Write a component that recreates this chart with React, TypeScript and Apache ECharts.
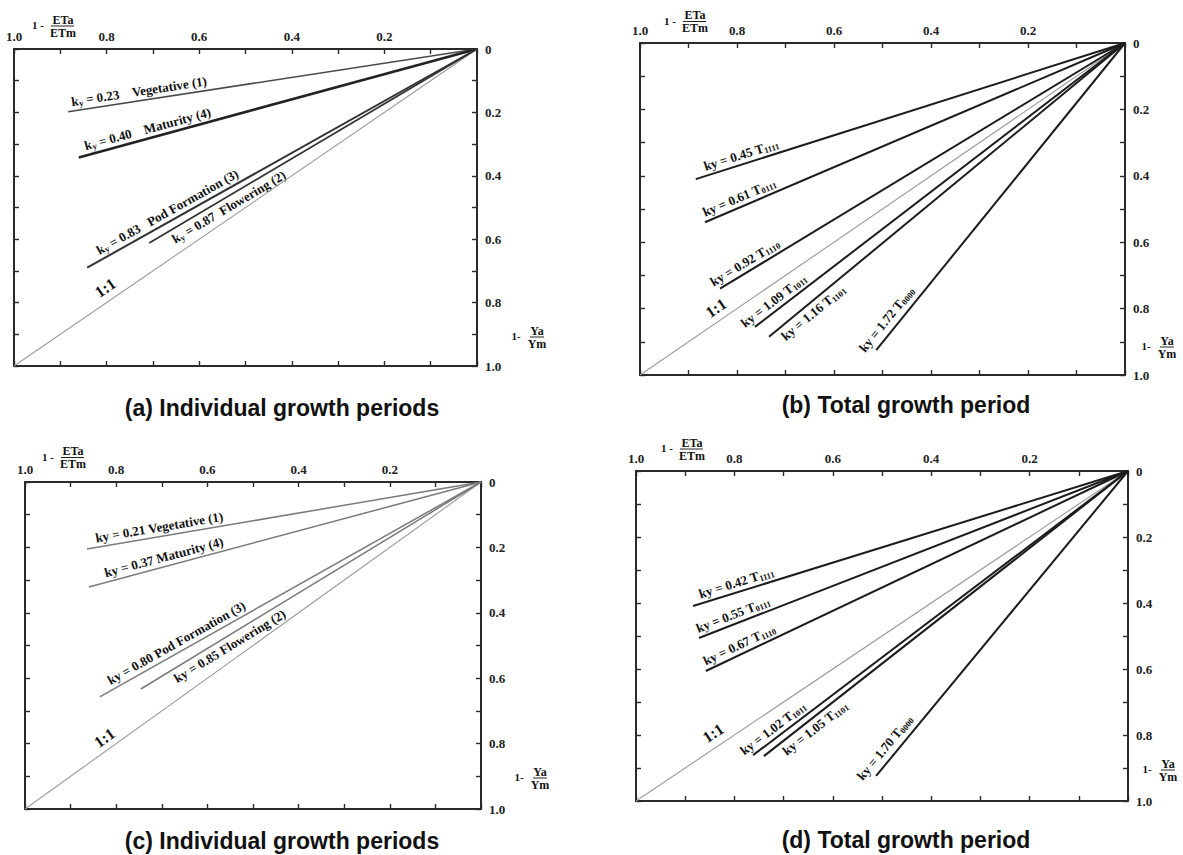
import React, { useEffect, useRef } from 'react';
import * as echarts from 'echarts';

// ---------------- data ----------------
const xTickLabels = ['1.0', '0.8', '0.6', '0.4', '0.2']; // at 1.0, 0.8 ... 0.2
const yTickLabels = ['0', '0.2', '0.4', '0.6', '0.8', '1.0']; // at 0, 0.2 ... 1.0

const stageNames = ['Vegetative (1)', 'Maturity (4)', 'Pod Formation (3)', 'Flowering (2)'];
const treatCodes = ['1111', '0111', '1110', '1011', '1101', '0000'];

// (a) individual growth periods
const aKy = ['0.23', '0.40', '0.83', '0.87'];
const aXEnd = [0.883, 0.86, 0.842, 0.708];
const aYEnd = [0.198, 0.342, 0.69, 0.612];

// (b) total growth period
const bKy = ['0.45', '0.61', '0.92', '1.09', '1.16', '1.72'];
const bXEnd = [0.885, 0.866, 0.835, 0.763, 0.734, 0.513];
const bYEnd = [0.41, 0.54, 0.74, 0.855, 0.885, 0.925];

// (c) individual growth periods
const cKy = ['0.21', '0.37', '0.80', '0.85'];
const cXEnd = [0.864, 0.86, 0.836, 0.746];
const cYEnd = [0.205, 0.321, 0.657, 0.633];

// (d) total growth period
const dKy = ['0.42', '0.55', '0.67', '1.02', '1.05', '1.70'];
const dXEnd = [0.884, 0.872, 0.858, 0.762, 0.74, 0.512];
const dYEnd = [0.409, 0.506, 0.606, 0.861, 0.864, 0.924];

const unityLine = [[0, 0], [1, 1]];
const unityLabel = '1:1';

const titles = [
  '(a) Individual growth periods',
  '(b) Total growth period',
  '(c) Individual growth periods',
  '(d) Total growth period',
];
const xNameParts = ['1 -', 'ETa', 'ETm'];
const yNameParts = ['1-', 'Ya', 'Ym'];

// ---------------- layout & style ----------------
const SERIF = '"Liberation Serif", "Times New Roman", serif';
const SANS = '"Liberation Sans", Arial, sans-serif';
const NB = '\u00a0';

const GRIDS = [
  { left: 14, top: 49, width: 463, height: 317 },
  { left: 640, top: 43, width: 485, height: 332 },
  { left: 25, top: 482, width: 456, height: 327 },
  { left: 636, top: 471, width: 492, height: 330 },
];

// label anchor (x value where text starts) and side of the line
const LABEL_X = [
  [0.873, 0.842, 0.81, 0.667],
  [0.862, 0.862, 0.843, 0.777, 0.718, 0.525],
  [0.842, 0.82, 0.807, 0.682],
  [0.866, 0.87, 0.854, 0.774, 0.711, 0.528],
];
const LABEL_BELOW = [
  [false, false, false, true],
  [false, false, false, false, true, false],
  [false, false, false, true],
  [false, false, false, false, true, false],
];
const LABEL_GAP = [
  [2, 2, 2, 2],
  [2, 2, 2, 2, 2, 4],
  [2, 2, 2, 2],
  [2, 2, 2, 2, 2, 4],
];
const UNITY_LABEL_X = [0.806, 0.847, 0.83, 0.846];
const UNITY_GAP = [4, 3.5, 2.5, 4.5];
const A_GAPS = [4, 4, 3, 2];

const LINE_STYLES = [
  [
    { color: '#4a4a4a', width: 1.6 },
    { color: '#222', width: 2.6 },
    { color: '#333', width: 2 },
    { color: '#333', width: 1.8 },
  ],
  Array(6).fill({ color: '#1c1c1c', width: 2 }),
  Array(4).fill({ color: '#7a7a7a', width: 1.5 }),
  Array(6).fill({ color: '#1c1c1c', width: 2 }),
];
const UNITY_STYLE = { color: '#9a9a9a', width: 1.1 };

// fraction centre x and bar y of the axis names
const XNAME_POS = [[63, 26], [695, 21.5], [73, 457.5], [692, 449]];
const YNAME_POS = [[537, 337], [1167, 347], [540, 778], [1168, 770]];
const TITLE_POS = [[282, 396], [906, 393], [282, 829], [906, 828]];

const RICH = {
  t: { fontFamily: SERIF, fontWeight: 'bold', fontSize: 13, fill: '#111', lineHeight: 15 },
  s: { fontFamily: SERIF, fontWeight: 'bold', fontSize: 8.5, fill: '#111', verticalAlign: 'bottom', lineHeight: 6 },
  k: { fontFamily: SERIF, fontWeight: 'bold', fontSize: 9, fill: '#111', verticalAlign: 'bottom', lineHeight: 7 },
  u: { fontFamily: SERIF, fontWeight: 'bold', fontSize: 16, fill: '#111', lineHeight: 18 },
};

type Panel = { ky: string[]; xEnd: number[]; yEnd: number[]; mode: 'a' | 'b' | 'c' };
const PANELS: Panel[] = [
  { ky: aKy, xEnd: aXEnd, yEnd: aYEnd, mode: 'a' },
  { ky: bKy, xEnd: bXEnd, yEnd: bYEnd, mode: 'b' },
  { ky: cKy, xEnd: cXEnd, yEnd: cYEnd, mode: 'c' },
  { ky: dKy, xEnd: dXEnd, yEnd: dYEnd, mode: 'b' },
];

function labelText(p: Panel, i: number): string {
  if (p.mode === 'a') {
    return `{t|k}{k|y}{t|${NB}=${NB}${p.ky[i]}${NB.repeat(A_GAPS[i])}${stageNames[i]}}`;
  }
  if (p.mode === 'c') {
    return `{t|ky${NB}=${NB}${p.ky[i]}${NB}${stageNames[i]}}`;
  }
  return `{t|ky${NB}=${NB}${p.ky[i]}${NB}T}{s|${treatCodes[i]}}`;
}

const xFmt = (v: number) => {
  const r = Math.round(v * 10);
  if (r % 2 !== 0 || r === 0) return '';
  return xTickLabels[(10 - r) / 2];
};
const yFmt = (v: number) => {
  const r = Math.round(v * 10);
  if (r % 2 !== 0) return '';
  return yTickLabels[r / 2];
};

function buildOption() {
  const lineCol = '#2a2a2a';
  const xAxis: any[] = [];
  const yAxis: any[] = [];
  const series: any[] = [];
  const graphic: any[] = [];
  const tickStyle = { show: true, inside: true, length: 5, lineStyle: { color: lineCol, width: 1.4 } };
  const axLine = { show: true, onZero: false, lineStyle: { color: lineCol, width: 2 } };
  const labelFont = { color: '#222', fontFamily: SERIF, fontWeight: 'bold', fontSize: 13 };

  GRIDS.forEach((g, gi) => {
    const common = { type: 'value', min: 0, max: 1, interval: 0.1, gridIndex: gi, inverse: true, splitLine: { show: false } };
    xAxis.push({
      ...common, position: 'top', axisLine: axLine, axisTick: tickStyle,
      axisLabel: { ...labelFont, margin: 6, formatter: xFmt, showMinLabel: true, showMaxLabel: true },
    });
    xAxis.push({ ...common, position: 'bottom', axisLine: axLine, axisTick: tickStyle, axisLabel: { show: false } });
    yAxis.push({
      ...common, position: 'right', axisLine: axLine, axisTick: tickStyle,
      axisLabel: { ...labelFont, margin: 8, align: 'left', formatter: yFmt, showMinLabel: true, showMaxLabel: true },
    });
    yAxis.push({ ...common, position: 'left', axisLine: axLine, axisTick: tickStyle, axisLabel: { show: false } });

    const p = PANELS[gi];
    const xi = gi * 2;
    // 1:1 line
    series.push({
      type: 'line', xAxisIndex: xi, yAxisIndex: xi, data: unityLine, symbol: 'none', silent: true,
      lineStyle: { color: UNITY_STYLE.color, width: UNITY_STYLE.width },
    });
    p.ky.forEach((_, i) => {
      series.push({
        type: 'line', xAxisIndex: xi, yAxisIndex: xi, symbol: 'none', silent: true,
        data: [[0, 0], [p.xEnd[i], p.yEnd[i]]],
        lineStyle: { color: LINE_STYLES[gi][i].color, width: LINE_STYLES[gi][i].width },
      });
    });

    // labels along lines
    const labels = p.ky.map((_, i) => ({
      xe: p.xEnd[i], ye: p.yEnd[i], lx: LABEL_X[gi][i], below: LABEL_BELOW[gi][i], text: labelText(p, i), gap: LABEL_GAP[gi][i],
    }));
    labels.push({ xe: 1, ye: 1, lx: UNITY_LABEL_X[gi], below: false, text: `{u|${unityLabel}}`, gap: UNITY_GAP[gi] });
    series.push({
      type: 'custom', xAxisIndex: xi, yAxisIndex: xi, silent: true, clip: false,
      data: labels.map((L) => [L.lx, (L.lx * L.ye) / L.xe]),
      renderItem: (params: any, api: any) => {
        const L = labels[params.dataIndex];
        const o = api.coord([0, 0]);
        const e = api.coord([L.xe, L.ye]);
        const dx = o[0] - e[0];
        const dy = e[1] - o[1];
        const th = Math.atan2(dy, dx);
        const s = L.lx / L.xe;
        const px = o[0] + (e[0] - o[0]) * s;
        const py = o[1] + (e[1] - o[1]) * s;
        const g2 = L.below ? -L.gap : L.gap;
        return {
          type: 'text',
          x: px - g2 * Math.sin(th),
          y: py - g2 * Math.cos(th),
          rotation: th,
          style: {
            text: L.text,
            rich: RICH,
            align: 'left',
            verticalAlign: L.below ? 'top' : 'bottom',
            textAlign: 'left',
            textVerticalAlign: L.below ? 'top' : 'bottom',
          },
        };
      },
    });

    // axis names (stacked fractions)
    const [fx, fy] = XNAME_POS[gi];
    const nameFont = { fill: '#111', font: `bold 12px ${SERIF}` };
    const smallFont = { fill: '#111', font: `bold 11px ${SERIF}` };
    graphic.push({ type: 'text', x: fx - 25, y: fy - 1, style: { ...smallFont, text: xNameParts[0], align: 'center', verticalAlign: 'middle', textAlign: 'center', textVerticalAlign: 'middle' } });
    graphic.push({ type: 'text', x: fx, y: fy - 0.5, style: { ...nameFont, text: xNameParts[1], align: 'center', verticalAlign: 'bottom', textAlign: 'center', textVerticalAlign: 'bottom' } });
    graphic.push({ type: 'line', shape: { x1: fx - 12, y1: fy, x2: fx + 11, y2: fy }, style: { stroke: '#222', lineWidth: 1 } });
    graphic.push({ type: 'text', x: fx, y: fy + 0.5, style: { ...nameFont, text: xNameParts[2], align: 'center', verticalAlign: 'top', textAlign: 'center', textVerticalAlign: 'top' } });

    const [gx, gy] = YNAME_POS[gi];
    graphic.push({ type: 'text', x: gx - 21, y: gy - 1, style: { ...smallFont, text: yNameParts[0], align: 'center', verticalAlign: 'middle', textAlign: 'center', textVerticalAlign: 'middle' } });
    graphic.push({ type: 'text', x: gx, y: gy - 0.5, style: { ...nameFont, text: yNameParts[1], align: 'center', verticalAlign: 'bottom', textAlign: 'center', textVerticalAlign: 'bottom' } });
    graphic.push({ type: 'line', shape: { x1: gx - 7, y1: gy, x2: gx + 7, y2: gy }, style: { stroke: '#222', lineWidth: 1 } });
    graphic.push({ type: 'text', x: gx, y: gy + 0.5, style: { ...nameFont, text: yNameParts[2], align: 'center', verticalAlign: 'top', textAlign: 'center', textVerticalAlign: 'top' } });

    // title
    const [tx, ty] = TITLE_POS[gi];
    graphic.push({
      type: 'text', x: tx, y: ty,
      style: { text: titles[gi], fill: '#111', font: `bold 23px ${SANS}`, align: 'center', verticalAlign: 'top', textAlign: 'center', textVerticalAlign: 'top' },
    });
  });

  return {
    animation: false,
    backgroundColor: '#fff',
    grid: GRIDS.map((g) => ({ ...g, containLabel: false })),
    xAxis,
    yAxis,
    series,
    graphic,
  };
}

export default function App() {
  const ref = useRef<HTMLDivElement>(null);
  useEffect(() => {
    document.body.style.margin = '0';
    const chart = echarts.init(ref.current as HTMLDivElement, undefined, { renderer: 'svg' });
    chart.setOption(buildOption() as any);
    return () => chart.dispose();
  }, []);
  return <div ref={ref} style={{ width: 1183, height: 855 }} />;
}
